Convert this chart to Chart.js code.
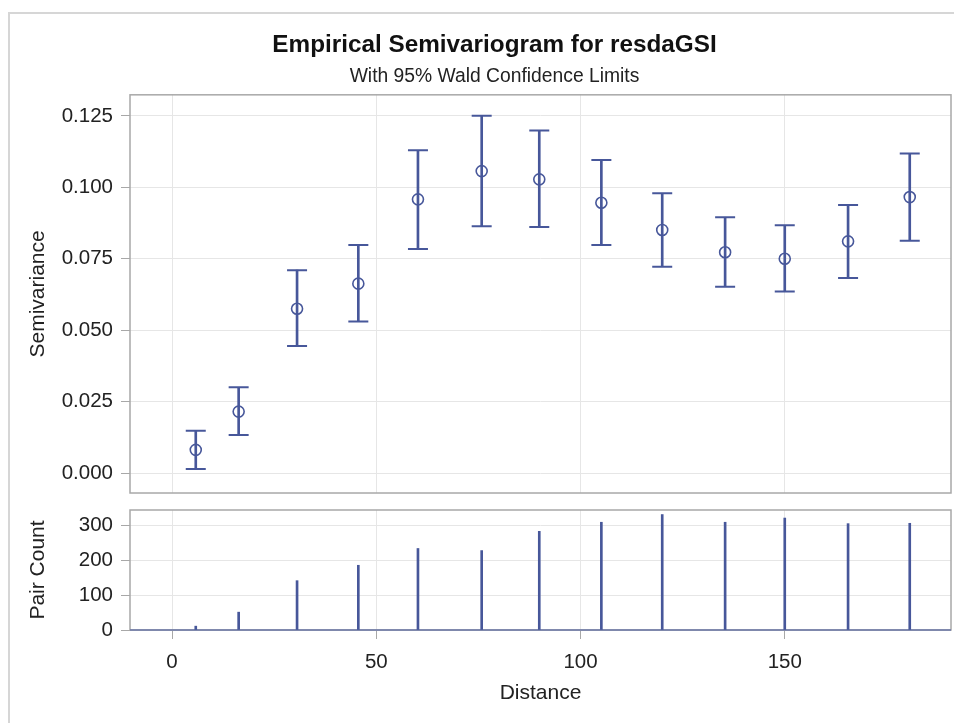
<!DOCTYPE html>
<html>
<head>
<meta charset="utf-8">
<title>Empirical Semivariogram for resdaGSI</title>
<script src="https://cdn.jsdelivr.net/npm/chart.js@4.4.1/dist/chart.umd.min.js"></script>
<style>
  html, body { margin: 0; padding: 0; background: #fff; overflow: hidden; }
  #frame {
    position: absolute; left: 8px; top: 12px; width: 1000px; height: 800px;
    border-left: 2px solid #d6d6d6; border-top: 2px solid #d6d6d6;
  }
  .panel { position: absolute; left: 0; width: 954px; }
</style>
</head>
<body>
<div id="frame"></div>
<div class="panel" style="top:0;height:500px"><canvas id="variogram"></canvas></div>
<div class="panel" style="top:500px;height:223px"><canvas id="pairs"></canvas></div>

<script>
// lag classes: average distance, semivariance and 95% Wald limits
const distances = [5.8, 16.3, 30.6, 45.6, 60.2, 75.8, 89.9, 105.1, 120.0, 135.4, 150.0, 165.5, 180.6];
const semivariance = [0.0081, 0.0215, 0.0575, 0.0663, 0.0958, 0.1057, 0.1028, 0.0946, 0.0851, 0.0773, 0.0750, 0.0811, 0.0966];
const lowerLimit = [0.0014, 0.0133, 0.0445, 0.0530, 0.0784, 0.0864, 0.0861, 0.0798, 0.0722, 0.0652, 0.0635, 0.0683, 0.0813];
const upperLimit = [0.0148, 0.0300, 0.0710, 0.0798, 0.1130, 0.1251, 0.1199, 0.1096, 0.0979, 0.0895, 0.0867, 0.0938, 0.1119];
const pairCounts = [11, 51, 141, 185, 233, 227, 282, 308, 330, 308, 320, 304, 305];

const distanceTicks = [0, 50, 100, 150];
const semiTicks = [0, 0.025, 0.05, 0.075, 0.1, 0.125];
const pairTicks = [0, 100, 200, 300];

const markColor = '#47579a';
const gridColor = '#e6e6e6';
const boxColor = '#a8a8a8';

Chart.defaults.font.family = "'Liberation Sans', Arial, sans-serif";
Chart.defaults.color = '#222';
Chart.defaults.animation = false;

// outline around each panel's plot area
const panelBox = {
  id: 'panelBox',
  beforeDatasetsDraw(chart, args, opts) {
    const { ctx, chartArea: a } = chart;
    ctx.save();
    ctx.strokeStyle = boxColor;
    ctx.lineWidth = 1.5;
    ctx.strokeRect(a.left, a.top, a.right - a.left, a.bottom - a.top);
    if (opts.baseline) {
      ctx.strokeStyle = opts.baseline;
      ctx.beginPath();
      ctx.moveTo(a.left, a.bottom);
      ctx.lineTo(a.right, a.bottom);
      ctx.stroke();
    }
    ctx.restore();
  }
};

function distanceAxis(showLabels) {
  return {
    type: 'linear',
    min: -10.3,
    max: 190.7,
    offset: false,
    afterBuildTicks: s => { s.ticks = distanceTicks.map(v => ({ value: v })); },
    afterFit: s => {
      s.height = showLabels ? 93 : 0;
      s.paddingLeft = 0;
      s.paddingRight = 0;
    },
    grid: { offset: false, color: gridColor, drawTicks: showLabels, tickLength: 9, tickColor: boxColor },
    border: { display: false },
    ticks: { display: showLabels, padding: 11, font: { size: 20.5 }, maxRotation: 0, autoSkip: false },
    title: { display: showLabels, text: 'Distance', font: { size: 21 }, padding: { top: 0, bottom: 17 } }
  };
}

function valueAxis(min, max, tickList, title, fmt) {
  return {
    type: 'linear',
    min: min,
    max: max,
    afterBuildTicks: s => { s.ticks = tickList.map(v => ({ value: v })); },
    afterFit: s => {
      s.width = 92;
      s.paddingTop = 0;
      s.paddingBottom = 0;
    },
    grid: { offset: false, color: gridColor, tickLength: 9, tickColor: boxColor },
    border: { display: false },
    ticks: { padding: 8, font: { size: 20.5 }, autoSkip: false, callback: fmt },
    title: { display: true, text: title, font: { size: 21 }, padding: { top: -12.6, bottom: 0 } }
  };
}

const xy = (ys) => distances.map((d, i) => ({ x: d, y: ys[i] }));

new Chart(document.getElementById('variogram'), {
  type: 'scatter',
  data: {
    datasets: [
      {
        label: 'Semivariance',
        data: xy(semivariance),
        pointStyle: 'circle',
        pointRadius: 5.5,
        borderWidth: 1.6,
        borderColor: markColor,
        backgroundColor: 'rgba(0,0,0,0)'
      },
      {
        label: 'Upper',
        data: xy(upperLimit),
        pointStyle: 'line',
        pointRadius: 10,
        borderWidth: 2,
        borderColor: markColor
      },
      {
        label: 'Lower',
        data: xy(lowerLimit),
        pointStyle: 'line',
        pointRadius: 10,
        borderWidth: 2,
        borderColor: markColor
      },
      {
        type: 'bar',
        label: 'Wald limits',
        data: distances.map((d, i) => ({ x: d, y: [lowerLimit[i], upperLimit[i]] })),
        backgroundColor: markColor,
        borderWidth: 0,
        barThickness: 2,
        grouped: false
      }
    ]
  },
  options: {
    responsive: true,
    maintainAspectRatio: false,
    events: [],
    layout: { autoPadding: false, padding: { left: 38, right: 3, top: 0, bottom: 7 } },
    scales: {
      x: distanceAxis(false),
      y: valueAxis(-0.007, 0.1324, semiTicks, 'Semivariance', v => v.toFixed(3))
    },
    plugins: {
      legend: { display: false },
      tooltip: { enabled: false },
      title: {
        display: true,
        text: 'Empirical Semivariogram for resdaGSI',
        color: '#111',
        font: { size: 24.3, weight: 'bold' },
        padding: { top: 31, bottom: 0 }
      },
      subtitle: {
        display: true,
        text: 'With 95% Wald Confidence Limits',
        color: '#222',
        font: { size: 19.3 },
        padding: { top: 4.5, bottom: 7 }
      }
    }
  },
  plugins: [panelBox]
});

new Chart(document.getElementById('pairs'), {
  type: 'bar',
  data: {
    datasets: [{
      label: 'Pair Count',
      data: xy(pairCounts),
      backgroundColor: markColor,
      borderWidth: 0,
      barThickness: 2
    }]
  },
  options: {
    responsive: true,
    maintainAspectRatio: false,
    events: [],
    layout: { autoPadding: false, padding: { left: 38, right: 3, top: 10, bottom: 0 } },
    scales: {
      x: distanceAxis(true),
      y: valueAxis(0, 343, pairTicks, 'Pair Count', v => String(v))
    },
    plugins: {
      legend: { display: false },
      tooltip: { enabled: false },
      panelBox: { baseline: '#6d79a8' }
    }
  },
  plugins: [panelBox]
});
</script>
</body>
</html>
